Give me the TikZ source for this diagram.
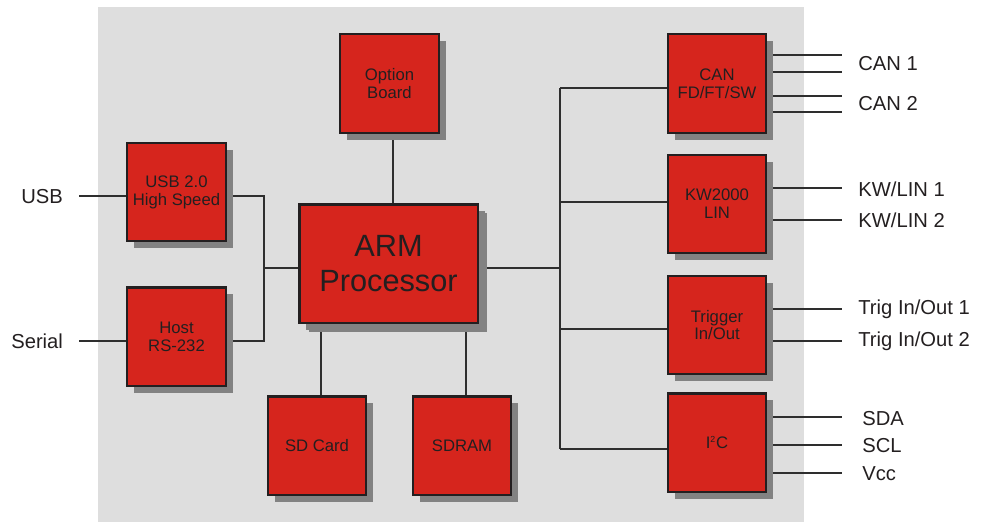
\documentclass[tikz,border=0pt]{standalone}
\usepackage{fontspec}
\setmainfont{Liberation Sans}
\usetikzlibrary{shadows}
\pgfdeclarelayer{background}
\pgfsetlayers{background,main}
\definecolor{boxred}{HTML}{D6251D}
\definecolor{edge}{HTML}{231F20}
\definecolor{txt}{HTML}{231F20}
\definecolor{shadowgray}{HTML}{828282}
\definecolor{bggray}{HTML}{DEDEDE}
\definecolor{wire}{HTML}{2E2E2E}
\begin{document}
\begin{tikzpicture}[x=0.02cm,y=-0.02cm,
  blk/.style={draw=edge, line width=1.4pt, fill=boxred, minimum width=1.97cm,
    minimum height=1.97cm, align=center, text=txt, inner sep=0pt,
    font=\fontsize{9.5}{10.2}\selectfont,
    drop shadow={shadow xshift=0.14cm, shadow yshift=-0.14cm, fill=shadowgray, opacity=1}},
  bigblk/.style={blk, minimum width=3.57cm, minimum height=2.37cm,
    font=\fontsize{17.5}{19.8}\selectfont,
    drop shadow={shadow xshift=0.19cm, shadow yshift=-0.18cm, fill=shadowgray, opacity=1}},
  lab/.style={inner sep=0pt, text=txt, font=\fontsize{11.5}{13}\selectfont},
  wireline/.style={draw=wire, line width=0.6pt}]
\useasboundingbox (0,0) rectangle (987,522);

% blocks
\node[blk] (opt) at (389.5,83.5) {Option\\Board};
\node[blk] (usb) at (176.5,192) {USB 2.0\\High Speed};
\node[blk] (host) at (176.5,336.5) {Host\\RS-232};
\node[bigblk] (arm) at (388.5,263.5) {ARM\\Processor};
\node[blk] (sd) at (317,445.5) {SD Card};
\node[blk] (sdram) at (462,445.5) {SDRAM};
\node[blk] (can) at (717,83.5) {CAN\\FD/FT/SW};
\node[blk] (kw) at (717,204) {KW2000\\LIN};
\node[blk] (trig) at (717,325) {Trigger\\In/Out};
\node[blk] (i2c) at (717,442.5) {I\textsuperscript{\fontsize{5}{5}\selectfont 2}C};

% labels
\node[lab, anchor=base east] (usbl) at (63.3,203.3) {USB};
\node[lab, anchor=base east] (serl) at (63.3,348.3) {Serial};
\node[lab, anchor=base west] (can1l) at (858,70.7) {CAN 1};
\node[lab, anchor=base west] (can2l) at (858,110.7) {CAN 2};
\node[lab, anchor=base west] (kw1l) at (858,196) {KW/LIN 1};
\node[lab, anchor=base west] (kw2l) at (858,227.7) {KW/LIN 2};
\node[lab, anchor=base west] (tr1l) at (858,314.3) {Trig In/Out 1};
\node[lab, anchor=base west] (tr2l) at (858,346) {Trig In/Out 2};
\node[lab, anchor=base west] (sdal) at (862,425) {SDA};
\node[lab, anchor=base west] (scll) at (862,452.7) {SCL};
\node[lab, anchor=base west] (vccl) at (862,480.7) {Vcc};

% coordinates
\coordinate (usbin) at (79,196);
\coordinate (serin) at (79,341);
\coordinate (lb1) at (264,196);
\coordinate (lb2) at (264,341);
\coordinate (lb3) at (264,268);
\coordinate (optx) at (393,0);
\coordinate (sdx) at (321,0);
\coordinate (sdramx) at (466,0);
\coordinate (rb0) at (560,268);
\coordinate (rb1) at (560,88);
\coordinate (rb2) at (560,202);
\coordinate (rb3) at (560,329);
\coordinate (rb4) at (560,449);
\coordinate (o1) at (842,55);
\coordinate (o2) at (842,72);
\coordinate (o3) at (842,96);
\coordinate (o4) at (842,112);
\coordinate (o5) at (842,188);
\coordinate (o6) at (842,220);
\coordinate (o7) at (842,309);
\coordinate (o8) at (842,341);
\coordinate (o9) at (842,417);
\coordinate (o10) at (842,445);
\coordinate (o11) at (842,473);

\begin{pgfonlayer}{background}
\fill[bggray] (98,7) rectangle (804,522);
\draw[wireline] (usbin) -- (usbin -| usb.west);
\draw[wireline] (serin) -- (serin -| host.west);
\draw[wireline] (usb.east |- lb1) -- (lb1) -- (lb2) -- (host.east |- lb2);
\draw[wireline] (lb3) -- (arm.west |- lb3);
\draw[wireline] (opt.south -| optx) -- (arm.north -| optx);
\draw[wireline] (arm.south -| sdx) -- (sd.north -| sdx);
\draw[wireline] (arm.south -| sdramx) -- (sdram.north -| sdramx);
\draw[wireline] (arm.east |- rb0) -- (rb0);
\draw[wireline] (rb1) -- (rb4);
\draw[wireline] (rb1) -- (can.west |- rb1);
\draw[wireline] (rb2) -- (kw.west |- rb2);
\draw[wireline] (rb3) -- (trig.west |- rb3);
\draw[wireline] (rb4) -- (i2c.west |- rb4);
\draw[wireline] (can.east |- o1) -- (o1);
\draw[wireline] (can.east |- o2) -- (o2);
\draw[wireline] (can.east |- o3) -- (o3);
\draw[wireline] (can.east |- o4) -- (o4);
\draw[wireline] (kw.east |- o5) -- (o5);
\draw[wireline] (kw.east |- o6) -- (o6);
\draw[wireline] (trig.east |- o7) -- (o7);
\draw[wireline] (trig.east |- o8) -- (o8);
\draw[wireline] (i2c.east |- o9) -- (o9);
\draw[wireline] (i2c.east |- o10) -- (o10);
\draw[wireline] (i2c.east |- o11) -- (o11);
\end{pgfonlayer}
\end{tikzpicture}
\end{document}
